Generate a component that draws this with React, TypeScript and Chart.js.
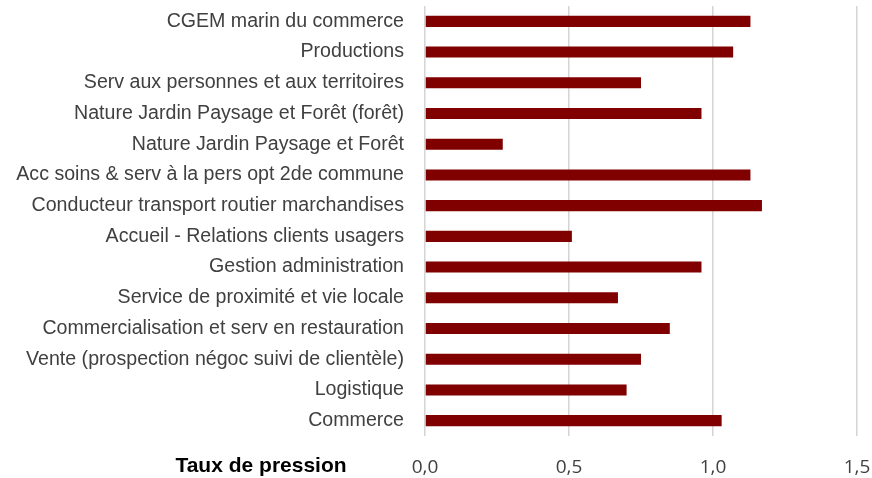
import React, { useEffect, useRef } from "react";
import { Chart, registerables } from "chart.js";

Chart.register(...registerables);

const categories: string[] = [
  "CGEM marin du commerce",
  "Productions",
  "Serv aux personnes et aux territoires",
  "Nature Jardin Paysage et Forêt (forêt)",
  "Nature Jardin Paysage et Forêt",
  "Acc soins & serv à la pers opt 2de commune",
  "Conducteur transport routier marchandises",
  "Accueil - Relations clients usagers",
  "Gestion administration",
  "Service de proximité et vie locale",
  "Commercialisation et serv en restauration",
  "Vente (prospection négoc suivi de clientèle)",
  "Logistique",
  "Commerce",
];

const tauxPression: number[] = [
  1.13, 1.07, 0.75, 0.96, 0.27, 1.13, 1.17, 0.51, 0.96, 0.67, 0.85, 0.75, 0.7, 1.03,
];

const axisTitle = "Taux de pression";
const xMin = 0;
const xMax = 1.5;
const xStep = 0.5;

export default function App() {
  const ref = useRef<HTMLCanvasElement | null>(null);

  useEffect(() => {
    if (!ref.current) return;
    const titlePlugin = {
      id: "bottomTitle",
      afterDraw(chart: any) {
        const ctx = chart.ctx;
        ctx.save();
        ctx.font = "bold 21px 'Liberation Sans', Arial, sans-serif";
        ctx.fillStyle = "#000000";
        ctx.textAlign = "center";
        ctx.textBaseline = "middle";
        ctx.fillText(axisTitle, 261, 466);
        ctx.restore();
      },
    };
    const chart = new Chart(ref.current, {
      type: "bar",
      data: {
        labels: categories,
        datasets: [
          {
            label: axisTitle,
            data: tauxPression,
            backgroundColor: "#800000",
            borderWidth: 0,
            categoryPercentage: 1,
            barPercentage: 0.36,
          },
        ],
      },
      options: {
        indexAxis: "y",
        animation: false,
        responsive: false,
        maintainAspectRatio: false,
        layout: { padding: { top: 6, left: 0, right: 15, bottom: 0 } },
        plugins: {
          legend: { display: false },
          tooltip: { enabled: false },
        },
        scales: {
          x: {
            min: xMin,
            max: xMax,
            ticks: {
              stepSize: xStep,
              padding: 20,
              color: "#404040",
              font: { family: "'Open Sans', sans-serif", size: 19 },
              callback: (v: any) => Number(v).toFixed(1).replace(".", ","),
            },
            grid: { color: "#d4d4d4", lineWidth: 1.5, drawTicks: false },
            border: { display: false },
            afterFit: (scale: any) => {
              scale.height = 42;
              scale.paddingLeft = 0;
              scale.paddingRight = 0;
            },
          },
          y: {
            ticks: {
              padding: 21,
              color: "#404040",
              font: { family: "'Liberation Sans', Arial, sans-serif", size: 19.6 },
              autoSkip: false,
            },
            grid: { display: false, drawTicks: false },
            border: { display: false },
            afterFit: (scale: any) => {
              scale.width = 425;
              scale.paddingTop = 0;
              scale.paddingBottom = 0;
            },
          },
        },
      },
      plugins: [titlePlugin],
    });
    return () => chart.destroy();
  }, []);

  return (
    <div style={{ position: "fixed", left: 0, top: 0, width: 872, height: 478, background: "#fff" }}>
      <canvas ref={ref} width={872} height={478} style={{ width: 872, height: 478 }} />
    </div>
  );
}
